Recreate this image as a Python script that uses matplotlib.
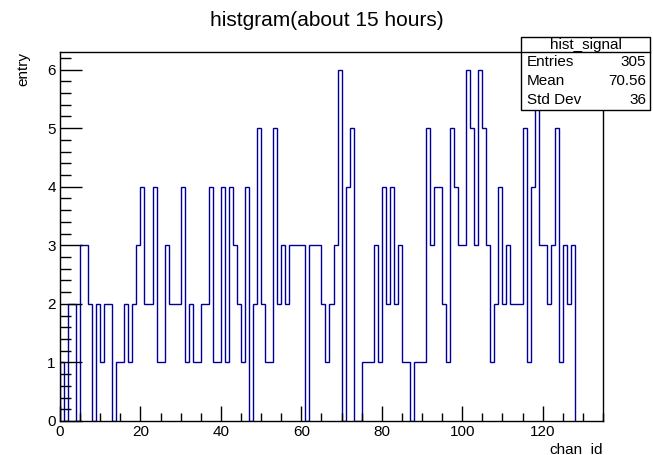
import numpy as np
import matplotlib
matplotlib.use('Agg')
from matplotlib import pyplot as plt
from matplotlib.patches import Rectangle
from matplotlib.ticker import MultipleLocator

# counts per chan_id bin (bins of width 1, from 0 to 128)
counts = [1, 0, 2, 2, 0, 3, 3, 2, 0, 2,
          1, 2, 2, 0, 1, 1, 2, 1, 2, 3,
          4, 2, 2, 4, 1, 1, 3, 2, 2, 2,
          4, 1, 2, 1, 1, 2, 2, 4, 1, 1,
          4, 1, 4, 3, 2, 1, 4, 0, 2, 5,
          2, 1, 1, 5, 2, 3, 2, 3, 3, 3,
          3, 0, 3, 3, 3, 2, 1, 2, 3, 6,
          0, 4, 5, 0, 0, 1, 1, 1, 3, 1,
          4, 2, 4, 2, 3, 1, 1, 0, 1, 1,
          1, 5, 3, 4, 4, 2, 1, 5, 4, 3,
          3, 6, 5, 3, 6, 5, 3, 1, 2, 4,
          2, 3, 2, 2, 2, 5, 1, 4, 6, 3,
          3, 2, 3, 5, 1, 3, 2, 3]
bin_edges = np.arange(0, len(counts) + 1)

stats_title = 'hist_signal'
stats_names = ['Entries', 'Mean', 'Std Dev']
stats_values = ['305', '70.56', '36']

plt.rcParams['font.family'] = ['Liberation Sans', 'DejaVu Sans']

fig = plt.figure(figsize=(6.53, 4.55), dpi=100)
ax = fig.add_axes([60 / 653, 34 / 455, 543 / 653, 369 / 455])

ax.stairs(counts, bin_edges, baseline=0, fill=False, color='#000099', linewidth=1.0)

ax.set_xlim(0, 135)
ax.set_ylim(0, 6.3)
ax.xaxis.set_major_locator(MultipleLocator(20))
ax.xaxis.set_minor_locator(MultipleLocator(5))
ax.yaxis.set_major_locator(MultipleLocator(1))
ax.yaxis.set_minor_locator(MultipleLocator(0.2))
ax.tick_params(axis='x', which='major', direction='in', length=11, width=1, labelsize=11, pad=3)
ax.tick_params(axis='x', which='minor', direction='in', length=5.5, width=1)
ax.tick_params(axis='y', which='major', direction='in', length=16, width=1, labelsize=11, pad=3)
ax.tick_params(axis='y', which='minor', direction='in', length=8, width=1)
for s in ax.spines.values():
    s.set_linewidth(1)

ax.set_xlabel('chan_id', loc='right', fontsize=11, labelpad=2)
ax.set_ylabel('entry', loc='top', fontsize=11, labelpad=12)

fig.text(0.5, 1 - 20 / 455, 'histgram(about 15 hours)', ha='center', va='center', fontsize=15)

# stats box
bx0, bx1 = 521 / 653, 650 / 653
by_top, by_mid, by_bot = 1 - 37 / 455, 1 - 52 / 455, 1 - 110 / 455
fig.patches.append(Rectangle((bx0, by_bot), bx1 - bx0, by_top - by_bot, transform=fig.transFigure,
                             facecolor='white', edgecolor='black', linewidth=1, zorder=5))
fig.add_artist(plt.Line2D([bx0, bx1], [by_mid, by_mid], transform=fig.transFigure,
                          color='black', linewidth=1, zorder=6))
fig.text((bx0 + bx1) / 2, (by_top + by_mid) / 2, stats_title, ha='center', va='center', fontsize=11, zorder=7)
row_h = (by_mid - by_bot) / 3
for i, (name, val) in enumerate(zip(stats_names, stats_values)):
    yy = by_mid - row_h * (i + 0.5)
    fig.text(bx0 + 6 / 653, yy, name, ha='left', va='center', fontsize=11, zorder=7)
    fig.text(bx1 - 4 / 653, yy, val, ha='right', va='center', fontsize=11, zorder=7)

fig.savefig('out.png', dpi=100)
